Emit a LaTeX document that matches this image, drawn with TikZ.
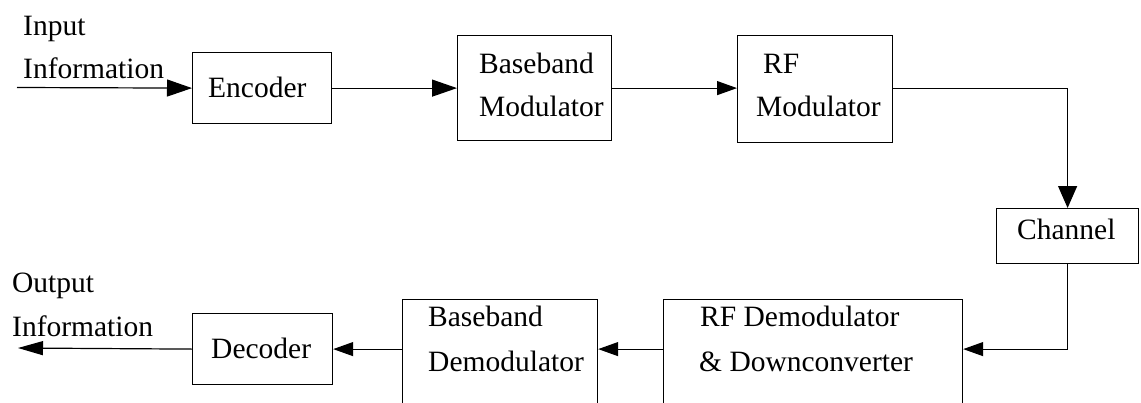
\documentclass[tikz,border=0pt]{standalone}
\usepackage{fontspec}
\setmainfont{Liberation Serif}
\usetikzlibrary{arrows.meta}
\tikzset{
  x=1pt, y=-1pt,
  blk/.style={draw, line width=1.2pt, inner sep=0pt, anchor=north west},
  txt/.style={inner sep=0pt, anchor=base west, font=\fontsize{29.5}{34}\selectfont},
  wire/.style={line width=1.2pt},
  bigtip/.style={-{Triangle[length=25pt,width=17pt]}},
  smalltip/.style={-{Triangle[length=20pt,width=14pt]}},
  downtip/.style={-{Triangle[length=22pt,width=19pt]}},
  outtip/.style={-{Triangle[length=25pt,width=14pt]}},
}
\begin{document}
\begin{tikzpicture}
\useasboundingbox (0,0) rectangle (1141,402);
\clip (0,0) rectangle (1141,402);

% transmitter chain
\node[blk, minimum width=139pt, minimum height=71pt] (enc) at (192,52) {};
\node[blk, minimum width=154pt, minimum height=105pt] (bbmod) at (457,35) {};
\node[blk, minimum width=155pt, minimum height=107pt] (rfmod) at (737,35) {};
\node[blk, minimum width=142pt, minimum height=55pt] (chan) at (996,208) {};

% receiver chain (lower edges run past the page)
\node[blk, minimum width=299pt, minimum height=140pt] (rfdem) at (663,299) {};
\node[blk, minimum width=195pt, minimum height=140pt] (bbdem) at (402,299) {};
\node[blk, minimum width=140pt, minimum height=71pt] (dec) at (192,313) {};

% labels
\node[txt] (tin1) at (23,35) {Input};
\node[txt] (tin2) at (23,78) {Information};
\node[txt] (tenc) at (208,97) {Encoder};
\node[txt] (tbb1) at (479,73) {Baseband};
\node[txt] (tbb2) at (479,116) {Modulator};
\node[txt] (trf1) at (763,73) {RF};
\node[txt] (trf2) at (756,116) {Modulator};
\node[txt] (tch) at (1017,239) {Channel};
\node[txt] (trd1) at (700,326) {RF Demodulator};
\node[txt] (trd2) at (699,371) {\& Downconverter};
\node[txt] (tbd1) at (428,326) {Baseband};
\node[txt] (tbd2) at (428,371) {Demodulator};
\node[txt] (tdec) at (211,358) {Decoder};
\node[txt] (tout1) at (12,292) {Output};
\node[txt] (tout2) at (12,336) {Information};

% free ends of the input and output lines
\coordinate (src) at (17,87.5);
\coordinate (snk) at (18,348);

% connectors
\draw[wire, bigtip] (src) -- (enc.west);
\draw[wire, bigtip] (enc.east) -- (bbmod.west |- enc.east);
\draw[wire, smalltip] (bbmod.east |- enc.east) -- (rfmod.west |- enc.east);
\draw[wire, downtip] (rfmod.east |- enc.east) -| (chan.north);
\draw[wire, smalltip] (chan.south) |- (rfdem.east |- dec.east);
\draw[wire, smalltip] (rfdem.west |- dec.east) -- (bbdem.east |- dec.east);
\draw[wire, smalltip] (bbdem.west |- dec.east) -- (dec.east);
\draw[wire, outtip] (dec.west) -- (snk);
\end{tikzpicture}
\end{document}
